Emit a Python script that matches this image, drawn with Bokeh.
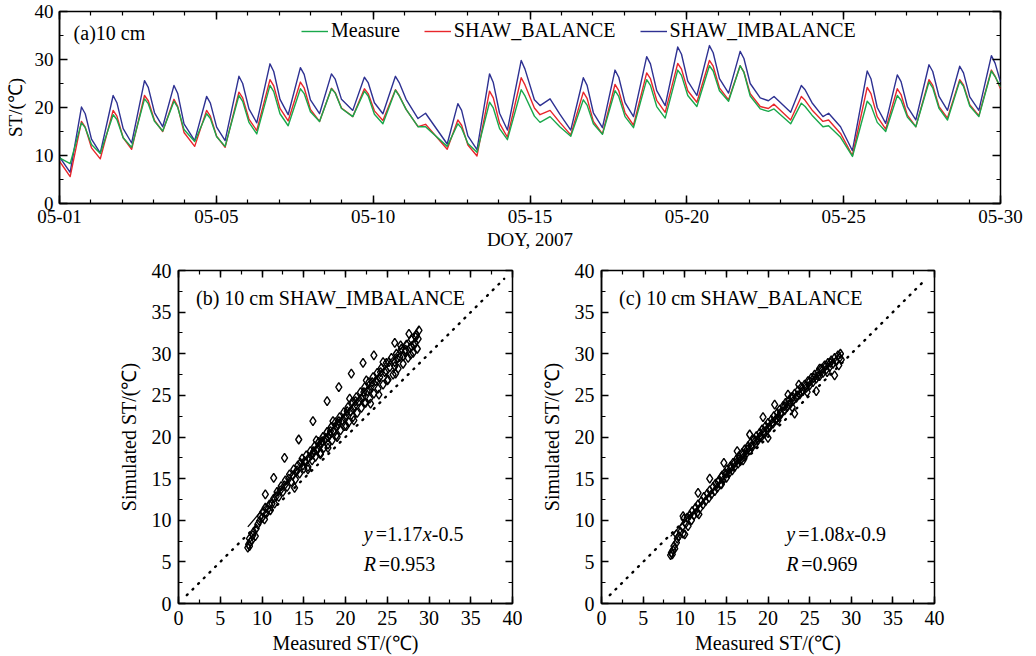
from bokeh.plotting import figure
from bokeh.models import (ColumnDataSource, LinearAxis, SingleIntervalTicker, FixedTicker,
                          Range1d, Legend, LegendItem, Label, CustomJSTickFormatter)
from bokeh.layouts import column, row
from bokeh.embed import file_html
from bokeh.resources import INLINE

FONT = "Liberation Serif"
GREEN = "#19a84b"
RED = "#e8262b"
BLUE = "#2e3192"

# ---------------- (a) time series, 10 cm soil temperature ----------------
day = [0.00, 0.34, 0.70, 0.82, 1.02, 1.30, 1.71, 1.83, 2.03, 2.30,
       2.71, 2.83, 3.03, 3.29, 3.65, 3.77, 3.97, 4.31, 4.69, 4.81,
       5.01, 5.28, 5.72, 5.84, 6.04, 6.29, 6.71, 6.83, 7.03, 7.29,
       7.68, 7.80, 8.00, 8.29, 8.67, 8.79, 8.99, 9.35, 9.72, 9.84,
       10.04, 10.31, 10.71, 10.83, 11.05, 11.43, 11.67, 12.36, 12.70, 12.82,
       13.02, 13.31, 13.71, 13.83, 14.03, 14.28, 14.72, 14.84, 15.14, 15.32,
       15.64, 15.95, 16.30, 16.70, 16.82, 17.02, 17.31, 17.71, 17.83, 18.03,
       18.30, 18.72, 18.84, 19.04, 19.31, 19.71, 19.83, 20.03, 20.32, 20.72,
       20.84, 21.04, 21.33, 21.70, 21.82, 22.02, 22.34, 22.60, 22.78, 23.31,
       23.65, 23.77, 23.99, 24.34, 24.52, 24.90, 25.28, 25.75, 25.87, 26.07,
       26.34, 26.71, 26.83, 27.03, 27.30, 27.72, 27.84, 28.04, 28.31, 28.70,
       28.82, 29.02, 29.31, 29.71, 29.83, 30.00]
st_imbalance = [9.7, 6.5, 20.1, 18.7, 13.4, 10.5, 22.5, 21.0, 15.6, 12.6,
                25.6, 24.2, 18.9, 16.0, 24.6, 22.9, 16.6, 13.1, 22.3, 20.9,
                15.9, 13.1, 26.5, 25.0, 19.7, 16.8, 29.1, 27.5, 21.7, 18.5,
                28.3, 26.9, 21.6, 18.7, 27.0, 25.9, 21.7, 19.4, 26.3, 25.2,
                21.0, 18.7, 26.5, 25.2, 21.7, 17.7, 18.8, 12.4, 20.8, 19.4,
                14.1, 11.2, 27.0, 25.2, 18.8, 15.3, 29.8, 28.0, 21.6, 20.4,
                21.8, 18.6, 15.3, 26.2, 24.6, 18.9, 15.8, 27.8, 26.3, 21.0,
                18.1, 30.6, 29.1, 23.5, 20.4, 32.6, 31.1, 25.5, 22.5, 32.9,
                31.4, 26.0, 23.0, 31.7, 30.2, 25.0, 22.0, 21.4, 22.3, 19.0,
                24.6, 23.7, 21.0, 18.1, 18.8, 16.0, 11.0, 27.6, 26.0, 20.0,
                16.7, 26.8, 25.4, 20.2, 17.4, 28.9, 27.5, 22.3, 19.4, 28.6,
                27.2, 22.2, 19.4, 30.8, 29.2, 25.3]
st_balance = [8.8, 5.6, 17.1, 15.9, 11.6, 9.3, 19.4, 18.2, 13.7, 11.3,
              22.5, 21.4, 17.3, 15.0, 21.7, 20.2, 14.8, 11.9, 19.4, 18.2,
              14.0, 11.7, 23.2, 22.0, 17.6, 15.2, 25.8, 24.5, 19.8, 17.2,
              25.3, 24.1, 19.6, 17.1, 24.0, 23.1, 19.9, 18.1, 23.9, 22.9,
              19.3, 17.3, 23.7, 22.5, 19.6, 16.0, 16.5, 11.3, 17.4, 16.3,
              12.2, 9.9, 23.4, 22.0, 16.7, 13.8, 26.2, 24.7, 19.9, 18.5,
              19.4, 16.9, 14.3, 23.2, 21.9, 17.1, 14.5, 24.8, 23.5, 18.9,
              16.3, 27.2, 26.0, 21.5, 19.0, 29.2, 28.0, 23.5, 21.1, 29.8,
              28.6, 24.1, 21.6, 28.7, 27.4, 22.9, 20.2, 19.8, 20.7, 17.4,
              22.3, 21.5, 19.5, 17.1, 17.4, 14.6, 10.0, 24.2, 22.9, 18.1,
              15.5, 23.9, 22.7, 18.4, 16.0, 25.8, 24.6, 20.2, 17.8, 25.8,
              24.7, 20.6, 18.3, 27.8, 26.5, 23.9]
st_measure = [9.5, 8.3, 16.8, 15.8, 12.3, 10.4, 18.5, 17.5, 13.7, 11.7,
              21.8, 20.8, 17.1, 15.1, 21.3, 20.0, 15.4, 12.9, 18.7, 17.7,
              13.9, 11.9, 22.5, 21.3, 16.9, 14.5, 24.6, 23.3, 18.7, 16.2,
              23.9, 22.9, 19.1, 17.1, 23.9, 23.0, 19.8, 18.1, 23.4, 22.4,
              18.6, 16.6, 23.6, 22.4, 19.6, 16.0, 16.0, 11.9, 16.6, 15.7,
              12.5, 10.7, 21.1, 19.9, 15.6, 13.3, 23.7, 22.4, 18.2, 16.9,
              18.1, 16.0, 14.0, 21.6, 20.5, 16.6, 14.4, 23.5, 22.3, 18.1,
              15.8, 25.8, 24.6, 20.2, 17.8, 27.8, 26.7, 22.5, 20.2, 28.7,
              27.6, 23.5, 21.3, 28.7, 27.3, 22.4, 19.7, 19.2, 19.7, 16.6,
              20.9, 20.2, 18.4, 16.0, 16.2, 13.8, 9.8, 21.3, 20.4, 16.9,
              15.0, 22.5, 21.5, 18.0, 16.0, 25.3, 24.1, 19.8, 17.4, 25.5,
              24.4, 20.3, 18.1, 27.6, 26.4, 24.3]
date_ticks = [0, 5, 10, 15, 20, 25, 30]
date_labels = ["05-01", "05-05", "05-10", "05-15", "05-20", "05-25", "05-30"]

# ---------------- (b) SHAW_IMBALANCE vs measured ----------------
meas_b = [8.3, 8.4, 8.5, 8.6, 8.5, 8.8, 8.9, 9.0, 9.2, 9.3,
          9.5, 9.7, 9.8, 10.0, 10.1, 10.4, 10.3, 10.5, 10.7, 10.9,
          11.0, 11.2, 11.4, 11.5, 11.7, 11.8, 12.0, 12.2, 12.3, 12.5,
          12.7, 12.8, 13.0, 13.2, 13.3, 13.5, 13.7, 13.8, 14.0, 14.1,
          14.3, 14.5, 14.6, 14.8, 15.0, 15.1, 15.3, 15.5, 15.6, 15.8,
          16.0, 16.1, 16.3, 16.4, 16.6, 16.8, 17.0, 17.1, 17.3, 17.4,
          17.6, 17.8, 17.9, 18.1, 18.3, 18.4, 18.6, 18.8, 18.9, 19.1,
          19.3, 19.4, 19.6, 19.8, 19.9, 20.1, 20.3, 20.4, 20.6, 20.8,
          20.9, 21.1, 21.3, 21.4, 21.6, 21.8, 21.9, 22.1, 22.3, 22.4,
          22.6, 22.8, 22.9, 23.1, 23.3, 23.4, 23.6, 23.8, 23.9, 24.1,
          24.3, 24.5, 24.7, 24.9, 25.1, 25.3, 25.5, 25.7, 25.9, 26.1,
          26.3, 26.5, 26.7, 26.9, 27.1, 27.3, 27.5, 27.7, 27.9, 28.1,
          28.3, 28.5, 28.6, 28.7, 28.8, 10.4, 11.4, 12.7, 14.4, 16.1,
          17.8, 19.2, 20.7, 22.1, 23.4, 25.9, 27.6, 13.9, 15.5, 17.9,
          20.1, 22.3, 25.0, 27.8, 14.2, 15.2, 16.2, 17.2, 18.2, 19.2,
          20.2, 21.2, 22.2, 23.2, 24.2, 25.2, 26.2, 27.2, 28.2, 28.4,
          14.9, 15.9, 16.9, 17.9, 18.9, 19.9, 20.9, 21.9, 22.9, 23.9,
          24.9, 25.9, 26.9, 27.9, 16.5, 18.5, 20.5, 22.5, 24.5, 26.6,
          21.0, 23.0, 24.0, 26.0, 19.0, 17.0]
sim_b = [6.7, 7.1, 6.9, 7.4, 7.8, 7.6, 8.2, 8.6, 8.1, 9.0,
         9.5, 9.9, 10.5, 10.3, 11.0, 11.5, 10.1, 10.8, 11.3, 11.9,
         11.2, 12.0, 12.6, 12.0, 12.9, 13.4, 12.8, 13.6, 14.1, 13.4,
         14.2, 14.8, 14.0, 15.0, 15.5, 14.6, 15.4, 16.1, 14.9, 15.8,
         16.6, 15.6, 16.9, 17.4, 16.2, 17.1, 17.8, 16.4, 17.5, 18.3,
         17.2, 18.0, 18.9, 17.6, 18.6, 19.4, 18.1, 19.2, 20.0, 18.7,
         19.8, 20.6, 19.1, 20.3, 21.2, 19.6, 20.8, 21.8, 20.2, 21.5,
         22.4, 20.8, 22.0, 23.0, 21.3, 22.6, 23.6, 21.8, 23.1, 24.2,
         22.4, 23.7, 24.8, 22.9, 24.3, 25.4, 23.5, 24.9, 26.0, 24.1,
         25.5, 26.6, 24.6, 26.1, 27.2, 25.2, 26.7, 27.7, 25.8, 27.2,
         28.3, 26.3, 27.8, 28.9, 26.9, 28.4, 29.5, 27.5, 29.0, 30.0,
         28.2, 29.6, 30.6, 28.8, 30.2, 31.1, 29.5, 30.7, 31.7, 30.1,
         31.3, 32.3, 30.6, 31.8, 32.8, 13.1, 15.1, 17.5, 19.7, 21.9,
         24.3, 26.0, 27.6, 28.9, 29.8, 31.3, 32.4, 13.9, 16.1, 18.7,
         21.3, 24.1, 26.8, 29.9, 16.0, 17.0, 18.3, 19.5, 20.7, 21.9,
         23.1, 24.3, 25.4, 26.6, 27.8, 29.0, 29.4, 30.5, 31.0, 32.0,
         16.6, 17.8, 18.9, 20.0, 21.2, 22.3, 23.4, 24.6, 25.7, 26.8,
         27.9, 28.5, 29.7, 30.9, 19.6, 21.9, 24.6, 26.8, 29.0, 31.0,
         22.0, 24.0, 25.1, 27.6, 20.0, 17.9]
fit_b = [1.17, -0.5]        # slope, intercept
stats_b = ["1.17", "-0.5", "0.953"]

# ---------------- (c) SHAW_BALANCE vs measured ----------------
meas_c = [8.3, 8.4, 8.5, 8.6, 8.7, 8.8, 9.0, 9.1, 9.0, 9.3,
          9.5, 9.7, 9.8, 9.9, 10.1, 10.3, 10.4, 10.6, 10.8, 10.9,
          11.1, 11.3, 11.5, 11.6, 11.8, 12.0, 12.2, 12.3, 12.5, 12.7,
          12.9, 13.0, 13.2, 13.4, 13.6, 13.7, 13.9, 14.1, 14.3, 14.4,
          14.6, 14.8, 15.0, 15.1, 15.3, 15.5, 15.7, 15.8, 16.0, 16.2,
          16.4, 16.5, 16.7, 16.9, 17.1, 17.2, 17.4, 17.6, 17.8, 17.9,
          18.1, 18.3, 18.5, 18.6, 18.8, 19.0, 19.2, 19.3, 19.5, 19.7,
          19.9, 20.0, 20.2, 20.4, 20.6, 20.7, 20.9, 21.1, 21.3, 21.4,
          21.6, 21.8, 22.0, 22.1, 22.3, 22.5, 22.7, 22.8, 23.0, 23.2,
          23.4, 23.6, 23.8, 24.0, 24.2, 24.4, 24.6, 24.8, 25.0, 25.2,
          25.4, 25.6, 25.8, 26.0, 26.2, 26.4, 26.6, 26.8, 27.0, 27.2,
          27.4, 27.6, 27.8, 28.0, 28.2, 28.4, 28.5, 28.6, 28.7, 28.8,
          9.8, 11.6, 13.0, 14.7, 16.3, 17.8, 19.4, 20.8, 22.4, 23.7,
          26.2, 10.0, 25.8, 28.0, 20.0, 23.2, 17.0, 14.4, 11.7, 14.0,
          15.0, 16.0, 17.0, 18.0, 19.0, 20.0, 21.0, 22.0, 23.0, 24.0,
          25.0, 26.0, 27.0, 14.5, 15.5, 16.5, 17.5, 18.5, 19.5, 20.5,
          21.5, 22.5, 23.5, 24.5, 25.5, 26.5, 27.5, 21.2, 22.9, 24.7,
          27.1]
sim_c = [5.8, 6.1, 5.9, 6.4, 6.9, 6.6, 7.3, 7.8, 8.3, 8.1,
         8.6, 9.2, 8.4, 10.2, 9.6, 10.3, 9.3, 10.6, 10.0, 11.1,
         10.6, 11.5, 10.9, 11.9, 11.4, 12.3, 11.9, 12.8, 12.3, 13.2,
         12.7, 13.6, 13.1, 14.0, 13.5, 14.4, 13.9, 14.8, 14.3, 15.2,
         14.8, 15.7, 15.1, 16.1, 15.6, 16.5, 16.0, 16.9, 16.4, 17.3,
         16.8, 17.7, 17.2, 18.1, 17.6, 18.5, 18.0, 18.9, 18.4, 19.3,
         18.8, 19.7, 19.2, 20.1, 19.6, 20.5, 20.0, 20.9, 20.4, 21.3,
         20.8, 21.7, 21.2, 22.1, 21.6, 22.5, 22.0, 22.9, 22.4, 23.3,
         22.8, 23.7, 23.2, 24.1, 23.6, 24.4, 24.0, 24.8, 24.3, 25.2,
         24.7, 25.6, 25.1, 26.0, 25.5, 26.3, 25.9, 26.7, 26.2, 27.1,
         26.6, 27.5, 27.0, 27.8, 27.3, 28.2, 27.7, 28.6, 28.1, 28.9,
         28.4, 29.2, 28.8, 29.5, 29.1, 29.8, 28.6, 29.5, 30.0, 29.3,
         10.5, 13.3, 15.0, 16.9, 18.3, 20.3, 22.4, 23.9, 25.1, 26.3,
         28.2, 8.3, 25.5, 27.4, 19.9, 22.8, 17.2, 14.3, 10.7, 14.6,
         15.6, 16.9, 17.9, 18.9, 20.0, 21.1, 22.2, 23.7, 24.8, 25.4,
         26.7, 27.3, 28.6, 15.4, 16.2, 17.3, 18.5, 19.6, 20.7, 21.7,
         22.9, 23.9, 25.0, 26.1, 27.1, 28.0, 28.9, 22.0, 23.6, 25.4,
         27.8]
fit_c = [1.08, -0.9]
stats_c = ["1.08", "-0.9", "0.969"]

one_to_one = [1, 39]


def style_axis(ax, size, major_len, minor_len, label_size="20px", label_standoff=5, axis_standoff=5):
    ax.major_tick_in = major_len
    ax.major_tick_out = 0
    ax.minor_tick_in = minor_len
    ax.minor_tick_out = 0
    ax.axis_line_color = "black"
    ax.axis_line_width = 1.5
    ax.major_tick_line_color = "black"
    ax.minor_tick_line_color = "black"
    ax.major_tick_line_width = 1.5
    ax.minor_tick_line_width = 1.2
    ax.major_label_text_font = FONT
    ax.major_label_text_font_size = size
    ax.major_label_text_color = "black"
    ax.major_label_standoff = label_standoff
    ax.axis_label_text_font = FONT
    ax.axis_label_text_font_style = "normal"
    ax.axis_label_text_font_size = label_size
    ax.axis_label_text_color = "black"
    ax.axis_label_standoff = axis_standoff


def mirror_axis(p, ticker, place, major_len, minor_len):
    ax = LinearAxis(ticker=ticker, formatter=CustomJSTickFormatter(code="return ''"))
    ax.major_tick_in = major_len
    ax.major_tick_out = 0
    ax.minor_tick_in = minor_len
    ax.minor_tick_out = 0
    ax.axis_line_color = None
    ax.major_tick_line_color = "black"
    ax.minor_tick_line_color = "black"
    ax.major_tick_line_width = 1.5
    ax.minor_tick_line_width = 1.2
    ax.major_label_text_font_size = "1px"
    ax.major_label_standoff = 0
    p.add_layout(ax, place)


def base_fig(width, height, xr, yr, left, right, top, bottom):
    p = figure(width=width, height=height, x_range=xr, y_range=yr,
               output_backend="svg", toolbar_location=None,
               min_border_left=left, min_border_right=right,
               min_border_top=top, min_border_bottom=bottom)
    p.xgrid.visible = False
    p.ygrid.visible = False
    p.outline_line_color = "black"
    p.outline_line_width = 1.5
    p.background_fill_color = "white"
    p.border_fill_color = "white"
    return p


# ---------- top panel ----------
pa = base_fig(1036, 255, Range1d(0, 30), Range1d(0, 40), 59, 36, 11, 52)
pa.xaxis.ticker = FixedTicker(ticks=date_ticks, minor_ticks=list(range(0, 31)))
pa.yaxis.ticker = SingleIntervalTicker(interval=10, num_minor_ticks=2)
pa.xaxis.major_label_overrides = {t: lab for t, lab in zip(date_ticks, date_labels)}
pa.xaxis.axis_label = "DOY, 2007"
pa.yaxis.axis_label = "ST/(℃)"
style_axis(pa.xaxis[0], "19px", 8, 4, "19px", 6, 3)
style_axis(pa.yaxis[0], "19px", 8, 4, "19px", 6, 6)
mirror_axis(pa, FixedTicker(ticks=date_ticks, minor_ticks=list(range(0, 31))), "above", 8, 4)
mirror_axis(pa, SingleIntervalTicker(interval=10, num_minor_ticks=2), "right", 8, 4)

src = ColumnDataSource(dict(day=day, imb=st_imbalance, bal=st_balance, mea=st_measure))
r_imb = pa.line("day", "imb", source=src, line_color=BLUE, line_width=1.4, line_join="round")
r_bal = pa.line("day", "bal", source=src, line_color=RED, line_width=1.4, line_join="round")
r_mea = pa.line("day", "mea", source=src, line_color=GREEN, line_width=1.4, line_join="round")

legend = Legend(items=[LegendItem(label="Measure", renderers=[r_mea]),
                       LegendItem(label="SHAW_BALANCE", renderers=[r_bal]),
                       LegendItem(label="SHAW_IMBALANCE", renderers=[r_imb])],
                orientation="horizontal", location=(242, 161),
                label_text_font=FONT, label_text_font_size="20px", label_text_color="black",
                glyph_width=27, glyph_height=20, label_height=20, label_standoff=3,
                spacing=24, padding=0, margin=0, border_line_color=None,
                background_fill_alpha=0)
pa.add_layout(legend)
pa.add_layout(Label(x=0.45, y=35.6, text="(a)10 cm", text_font=FONT, text_color="black",
                    text_font_size="20px", text_baseline="middle"))


# ---------- scatter panels ----------
def scatter_panel(meas, sim, fit, stats, title, width, left, right):
    p = base_fig(width, 401, Range1d(0, 40), Range1d(0, 40), left, right, 15, 53)
    p.xaxis.ticker = SingleIntervalTicker(interval=5, num_minor_ticks=2)
    p.yaxis.ticker = SingleIntervalTicker(interval=5, num_minor_ticks=2)
    p.xaxis.axis_label = "Measured ST/(℃)"
    p.yaxis.axis_label = "Simulated ST/(℃)"
    style_axis(p.xaxis[0], "20px", 7, 4, "20px", 7, 4)
    style_axis(p.yaxis[0], "20px", 7, 4, "20px", 7, 9)
    mirror_axis(p, SingleIntervalTicker(interval=5, num_minor_ticks=2), "above", 7, 4)
    mirror_axis(p, SingleIntervalTicker(interval=5, num_minor_ticks=2), "right", 7, 4)

    p.line(one_to_one, one_to_one, line_color="black", line_width=2.4, line_dash="1 7",
           line_cap="round")
    s = ColumnDataSource(dict(x=meas, y=sim))
    p.scatter("x", "y", source=s, marker="diamond", size=9, fill_color=None,
              line_color="black", line_width=1.4)
    fx = [min(meas), max(meas)]
    fy = [fit[0] * v + fit[1] for v in fx]
    p.line(fx, fy, line_color="black", line_width=1.3)

    p.add_layout(Label(x=2.1, y=36.7, text=title, text_font=FONT, text_color="black",
                       text_font_size="20px", text_baseline="middle"))
    common = dict(x=22.2, text_font=FONT, text_color="black", text_font_size="20px",
                  text_baseline="middle")
    p.add_layout(Label(y=8.4, text="y", text_font_style="italic", **common))
    p.add_layout(Label(y=8.4, x_offset=12, text="=" + stats[0], **common))
    p.add_layout(Label(y=8.4, x_offset=59, text="x", text_font_style="italic", **common))
    p.add_layout(Label(y=8.4, x_offset=68, text=stats[1], **common))
    p.add_layout(Label(y=4.7, text="R", text_font_style="italic", **common))
    p.add_layout(Label(y=4.7, x_offset=15, text="=" + stats[2], **common))
    return p


pb = scatter_panel(meas_b, sim_b, fit_b, stats_b, "(b) 10 cm SHAW_IMBALANCE", 522, 178, 10)
pc = scatter_panel(meas_c, sim_c, fit_c, stats_c, "(c) 10 cm SHAW_BALANCE", 514, 79, 102)

layout = column(pa, row(pb, pc))
open("out.html", "w").write(file_html(layout, INLINE))
